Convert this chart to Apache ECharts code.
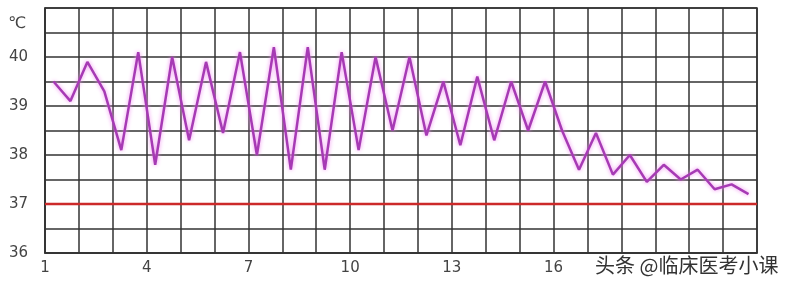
<!DOCTYPE html>
<html>
<head>
<meta charset="utf-8">
<script src="https://cdn.jsdelivr.net/npm/echarts@6/dist/echarts.min.js"></script>
<style>
html,body{margin:0;padding:0;background:#fff;}
#chart{width:788px;height:288px;}
</style>
</head>
<body>
<div id="chart"></div>
<script>
// Day positions of each reading (two readings per day)
var days = [1.25, 1.75, 2.25, 2.75, 3.25, 3.75, 4.25, 4.75, 5.25, 5.75,
            6.25, 6.75, 7.25, 7.75, 8.25, 8.75, 9.25, 9.75, 10.25, 10.75,
            11.25, 11.75, 12.25, 12.75, 13.25, 13.75, 14.25, 14.75, 15.25, 15.75,
            16.25, 16.75, 17.25, 17.75, 18.25, 18.75, 19.25, 19.75, 20.25, 20.75,
            21.25, 21.75];
// Body temperature readings (°C)
var temps = [39.5, 39.1, 39.9, 39.3, 38.1, 40.1, 37.8, 40.0, 38.3, 39.9,
             38.45, 40.1, 38.0, 40.2, 37.7, 40.2, 37.7, 40.1, 38.1, 40.0,
             38.5, 40.0, 38.4, 39.5, 38.2, 39.6, 38.3, 39.5, 38.5, 39.5,
             38.5, 37.7, 38.45, 37.6, 38.0, 37.45, 37.8, 37.5, 37.7, 37.3,
             37.4, 37.2];
// Normal temperature reference line
var normalTemp = 37;
var dayRange = [1, 22];
var tempRange = [36, 41];
var xTickLabels = [1, 4, 7, 10, 13, 16];
var yTickLabels = [36, 37, 38, 39, 40];
var unitLabel = '℃';
var watermark = '头条 @临床医考小课';

var chart = echarts.init(document.getElementById('chart'), null, {renderer: 'canvas'});
var labelFont = 'DejaVu Sans';
chart.setOption({
  animation: false,
  backgroundColor: '#fff',
  grid: {left: 45, right: 31, top: 8, bottom: 35, show: true, borderColor: '#333', borderWidth: 1.5, containLabel: false},
  xAxis: {
    type: 'value', min: dayRange[0], max: dayRange[1], interval: 1,
    axisLine: {show: true, lineStyle: {color: '#333', width: 1.5}},
    axisTick: {show: false},
    splitLine: {show: true, lineStyle: {color: '#333', width: 1.5}},
    axisLabel: {
      color: '#444', fontFamily: labelFont, fontSize: 15, margin: 8,
      formatter: function (v) { return xTickLabels.indexOf(v) >= 0 ? String(v) : ''; }
    }
  },
  yAxis: {
    type: 'value', min: tempRange[0], max: tempRange[1], interval: 0.5,
    axisLine: {show: true, lineStyle: {color: '#333', width: 1.5}},
    axisTick: {show: false},
    splitLine: {show: true, lineStyle: {color: '#333', width: 1.5}},
    axisLabel: {
      color: '#444', fontFamily: labelFont, fontSize: 15, margin: 17,
      formatter: function (v) { return yTickLabels.indexOf(v) >= 0 ? String(v) : ''; }
    }
  },
  graphic: [
    {type: 'text', left: 8, top: 16, style: {text: unitLabel, font: '16px "DejaVu Sans"', fill: '#444'}},
    {type: 'text', left: 595, top: 255, style: {text: watermark, font: '20px "Noto Sans CJK SC"', fill: '#333'}}
  ],
  series: [
    {
      type: 'line', silent: true, symbol: 'none', z: 3,
      data: [[dayRange[0], normalTemp], [dayRange[1], normalTemp]],
      lineStyle: {color: '#cc2a2a', width: 2.5}
    },
    {
      type: 'line', silent: true, symbol: 'none', z: 4,
      data: days.map(function (d, i) { return [d, temps[i]]; }),
      lineStyle: {color: '#a63ab4', width: 2.5, shadowBlur: 4, shadowColor: '#f08ef0'}
    }
  ]
});
</script>
</body>
</html>
